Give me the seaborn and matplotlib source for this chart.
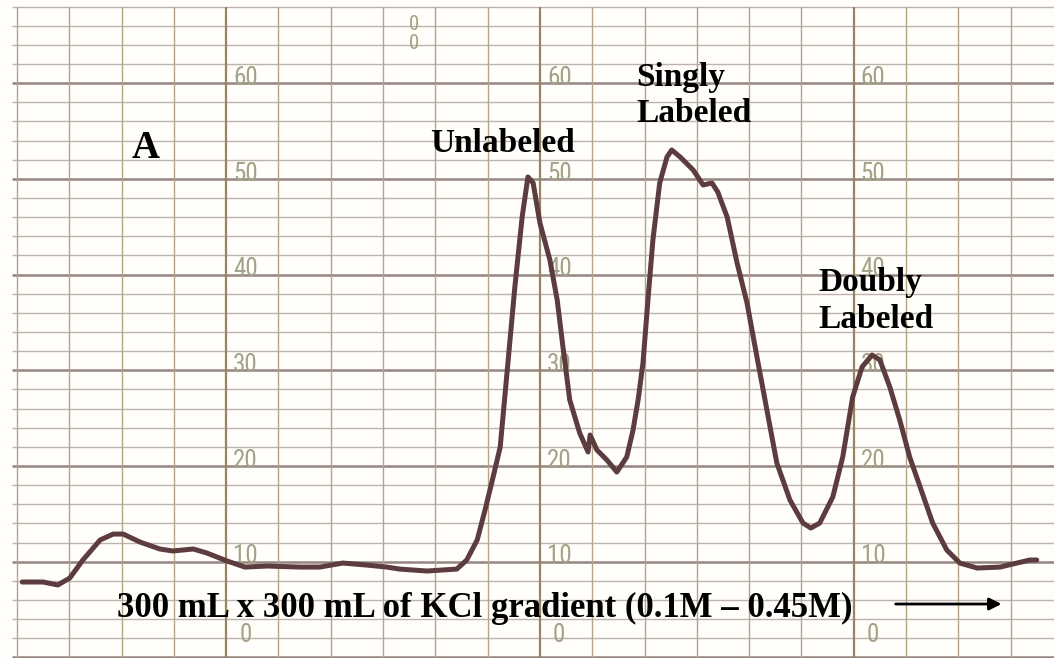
import numpy as np
import pandas as pd
import matplotlib
matplotlib.use('Agg')
import matplotlib.pyplot as plt
import seaborn as sns

# trace (x in chart divisions, y in recorder units)
pos = [0.10, 0.50, 0.78, 1.01, 1.26, 1.59, 1.84, 2.03, 2.35, 2.73, 2.98, 3.37, 3.63,
       4.02, 4.36, 4.78, 5.41, 5.79, 6.23, 6.69, 7.07, 7.32, 7.84, 8.41, 8.60, 8.80,
       8.95, 9.10, 9.24, 9.37, 9.52, 9.66, 9.77, 9.87, 10.00, 10.19, 10.33, 10.44,
       10.57, 10.76, 10.92, 10.96, 11.09, 11.28, 11.47, 11.66, 11.78, 11.88, 11.97,
       12.07, 12.16, 12.29, 12.43, 12.52, 12.68, 12.93, 13.12, 13.29, 13.40, 13.58,
       13.77, 13.96, 14.15, 14.34, 14.53, 14.78, 15.03, 15.18, 15.35, 15.60, 15.79,
       15.98, 16.16, 16.35, 16.50, 16.69, 16.88, 17.07, 17.27, 17.51, 17.78, 18.03,
       18.36, 18.80, 19.12, 19.37, 19.50]
signal = [7.88, 7.88, 7.57, 8.30, 10.18, 12.27, 12.89, 12.89, 12.06, 11.33, 11.12,
          11.33, 10.91, 10.07, 9.44, 9.55, 9.44, 9.44, 9.86, 9.65, 9.44, 9.23, 9.03,
          9.23, 10.18, 12.27, 15.40, 18.75, 21.98, 29.72, 38.70, 46.02, 50.20, 49.57,
          45.39, 41.53, 37.35, 32.44, 26.90, 23.45, 21.47, 23.24, 21.67, 20.63, 19.37,
          20.94, 23.75, 27.0, 30.76, 37.66, 43.62, 49.57, 52.29, 53.02, 52.29, 50.93,
          49.36, 49.57, 48.63, 46.02, 41.21, 37.03, 31.39, 25.85, 20.31, 16.45, 14.04,
          13.52, 14.04, 16.76, 20.94, 27.21, 30.35, 31.60, 31.08, 28.26, 24.81, 20.94,
          17.81, 14.04, 11.22, 9.86, 9.34, 9.44, 9.86, 10.18, 10.18]

scale_values = [0, 10, 20, 30, 40, 50, 60]
scale_columns = [4, 10, 16]

df = pd.DataFrame({'pos': pos, 'signal': signal})

sns.set_style('white')
fig = plt.figure(figsize=(10.54, 6.58), dpi=100, facecolor='#fffefa')
ax = fig.add_axes([0, 0, 1, 1])
ax.set_facecolor('#fffefa')
ax.set_xlim(-0.325, 19.83)
ax.set_ylim(-0.06, 68.69)
ax.axis('off')

# chart paper grid
for y in np.arange(0, 69, 2):
    heavy = y % 10 == 0
    ax.hlines(y, -0.1, 19.83, color='#958683' if heavy else '#bdb2ad',
              lw=1.8 if heavy else 1.0, zorder=1)
for x in range(20):
    heavy = x in scale_columns
    ax.vlines(x, -0.1, 68, color='#97855f' if heavy else '#b5a585',
              lw=1.6 if heavy else 1.0, zorder=1)

# printed scale numbers
num_font = ['Liberation Sans Narrow', 'DejaVu Sans Condensed', 'Roboto Condensed', 'DejaVu Sans']
for col in scale_columns:
    for v in scale_values:
        yy = v + 0.55 if v > 0 else 2.3
        ax.text(col + 0.37, yy, str(v), ha='center', va='center', fontsize=18,
                color='#a3a186', family=num_font, zorder=2)
ax.text(7.6, 65.1, '0\n0', ha='center', va='center', fontsize=15, linespacing=1.0,
        color='#a3a186', family=num_font, zorder=2)

sns.lineplot(data=df, x='pos', y='signal', sort=False, estimator=None,
             color='#5c3c3e', lw=3.6, ax=ax, zorder=3,
             solid_joinstyle='round', solid_capstyle='round')
ax.set_xlabel('')
ax.set_ylabel('')

serif = dict(family=['Liberation Serif', 'DejaVu Serif'], fontweight='bold', color='black', zorder=4)
ax.text(2.2, 52.2, 'A', fontsize=28, ha='left', va='baseline', **serif)
ax.text(7.90, 52.8, 'Unlabeled', fontsize=24, ha='left', va='baseline', **serif)
ax.text(11.84, 55.95, 'Singly\nLabeled', fontsize=24, ha='left', va='baseline',
        linespacing=1.2, **serif)
ax.text(15.32, 34.4, 'Doubly\nLabeled', fontsize=24, ha='left', va='baseline',
        linespacing=1.25, **serif)
ax.text(1.91, 4.22, '300 mL x 300 mL of KCl gradient (0.1M \u2013 0.45M)', fontsize=25,
        ha='left', va='baseline', **serif)
ax.annotate('', xy=(18.88, 5.58), xytext=(16.75, 5.58),
            arrowprops=dict(arrowstyle='-|>', color='black', lw=2, mutation_scale=18),
            zorder=4)

fig.savefig('out.png', dpi=100, facecolor=fig.get_facecolor())
